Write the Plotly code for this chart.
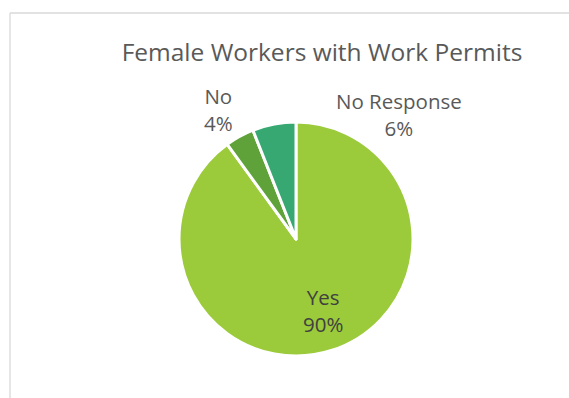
import plotly.graph_objects as go

# Survey responses: female workers holding a work permit
categories = ["Yes", "No", "No Response"]
shares = [90, 4, 6]
colors = ["#9BCB3B", "#5FA23A", "#37A871"]

W, H = 569, 398
FONT = "Open Sans"

fig = go.Figure(
    go.Pie(
        labels=categories,
        values=shares,
        sort=False,
        direction="clockwise",
        rotation=0,
        marker=dict(colors=colors, line=dict(color="white", width=3)),
        textinfo="none",
        hoverinfo="label+percent",
        showlegend=False,
        domain=dict(x=[179 / W, 413 / W], y=[42 / H, 276 / H]),
    )
)

# Category / percentage labels
label_pos = {
    "Yes": (323, 310, "#404040"),
    "No": (218, 110, "#595959"),
    "No Response": (399, 115, "#595959"),
}
for cat, val in zip(categories, shares):
    px, py, col = label_pos[cat]
    fig.add_annotation(
        x=px / W, y=1 - py / H, xref="paper", yref="paper",
        text=f"{cat}<br>{val}%", showarrow=False,
        font=dict(family=FONT, size=20.5, color=col),
        align="center", xanchor="center", yanchor="middle",
    )

# Chart-area frame (top and left edges)
frame = dict(color="#D9D9D9", width=1.3)
fig.add_shape(type="line", xref="paper", yref="paper",
              x0=10 / W, x1=1, y0=1 - 13 / H, y1=1 - 13 / H, line=frame)
fig.add_shape(type="line", xref="paper", yref="paper",
              x0=10 / W, x1=10 / W, y0=0, y1=1 - 13 / H, line=frame)

fig.update_layout(
    width=W, height=H,
    margin=dict(l=0, r=0, t=0, b=0),
    paper_bgcolor="white", plot_bgcolor="white",
    title=dict(
        text="Female Workers with Work Permits",
        x=322 / W, xanchor="center",
        y=1 - 52 / H, yanchor="middle",
        font=dict(family=FONT, size=24.5, color="#595959"),
    ),
)

fig.write_html("out.html")
